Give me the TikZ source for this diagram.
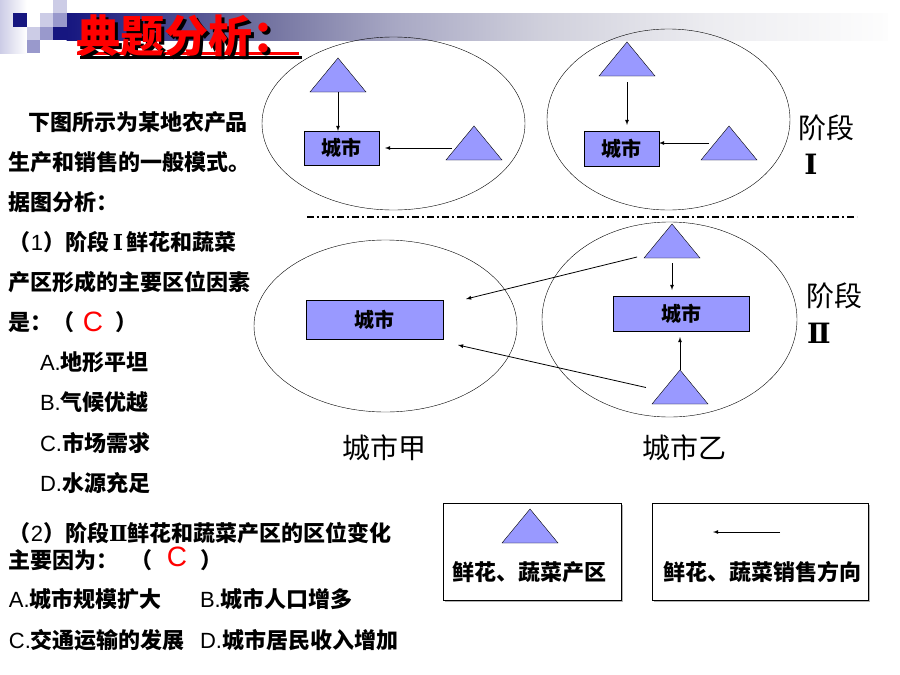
\documentclass[tikz,border=0pt]{standalone}
\usepackage{fontspec}
\setmainfont{Noto Sans CJK SC}
\newfontfamily\latin{Liberation Sans}
\newfontfamily\numfont{DejaVu Serif}
\usetikzlibrary{shapes, arrows, positioning, calc, shadows}

\definecolor{navy}{RGB}{22,22,128}
\definecolor{lilac}{RGB}{204,204,230}
\definecolor{lilacmid}{RGB}{153,153,204}
\definecolor{areablue}{RGB}{153,153,255}
\definecolor{barA}{RGB}{107,107,155}
\definecolor{barB}{RGB}{168,168,196}
\definecolor{barC}{RGB}{208,208,220}
\definecolor{barD}{RGB}{236,236,240}
\definecolor{barE}{RGB}{253,253,253}
\pgfdeclarehorizontalshading{titlebar}{100bp}{color(0bp)=(navy); color(25bp)=(navy); color(36bp)=(barA); color(45bp)=(barB); color(54bp)=(barC); color(64bp)=(barD); color(75bp)=(barE); color(100bp)=(barE)}

\newcommand{\choice}[1]{{\mdseries\latin #1.}}
\newcommand{\stagenum}[1]{{\numfont\bfseries #1}}

\begin{document}
\begin{tikzpicture}[x=1pt, y=-1pt,
  every node/.style={inner sep=0pt, outer sep=0pt},
  txt/.style={anchor=west, font=\bfseries\fontsize{22}{26}\selectfont},
  answer/.style={text=red, font=\latin\fontsize{28}{28}\selectfont},
  area/.style={draw, fill=areablue, isosceles triangle, isosceles triangle stretches, shape border rotate=90, minimum width=56pt, minimum height=34pt, anchor=apex},
  city/.style={draw, fill=areablue, font=\bfseries\fontsize{20}{20}\selectfont},
  zone/.style={draw, ellipse},
  flow/.style={-latex, line width=0.8pt},
  stage/.style={font=\fontsize{28}{28}\selectfont},
  key/.style={draw, fill=white, drop shadow={shadow xshift=2pt, shadow yshift=-2pt, fill=gray, opacity=0.6}},
  keytxt/.style={font=\bfseries\fontsize{22}{22}\selectfont}]
\useasboundingbox (0,0) rectangle (900,675);

% title bar
\shade[left color=lilac, right color=white] (0,0) rectangle (26.7,53.3);
\shade[shading=titlebar] (66.7,13.3) rectangle (888,40);
\foreach \sx/\sy/\sc in {53.3/0/lilac, 40/13.3/lilac, 26.7/26.7/lilac, 53.3/13.3/lilacmid, 40/26.7/lilacmid, 26.7/40/lilacmid, 53.3/26.7/navy, 13.3/13.3/navy}
  \fill[\sc] (\sx,\sy) rectangle ++(13.4,13.4);
\draw[line width=3pt] (80,57) -- (302,57);
\draw[red, line width=3pt] (77,53) -- (299,53);
\node[anchor=west, text=red, font=\bfseries\fontsize{44}{44}\selectfont] (ttl) at (76,37)
  {\makebox[0pt][l]{\hspace{3pt}\raisebox{-3pt}{\color{black}典题分析：}}典题分析：};

% question text
\node[txt] (intro1) at (28,122) {下图所示为某地农产品};
\node[txt] (intro2) at (9,162) {生产和销售的一般模式。};
\node[txt] (intro3) at (9,202) {据图分析：};
\node[txt] (q1a) at (9,242) {（{\mdseries\latin 1}）阶段\,\stagenum{Ⅰ}\,鲜花和蔬菜};
\node[txt] (q1b) at (9,282) {产区形成的主要区位因素};
\node[txt] (q1c) at (9,322) {是：（};
\node[answer] (ans1) at (93,322) {C};
\node[txt] (q1close) at (115,322) {）};
\node[txt] (q1A) at (40,362) {\choice{A}地形平坦};
\node[txt] (q1B) at (40,402) {\choice{B}气候优越};
\node[txt] (q1C) at (40,443) {\choice{C}市场需求};
\node[txt] (q1D) at (40,483) {\choice{D}水源充足};
\node[txt] (q2a) at (9,533) {（{\mdseries\latin 2}）阶段\stagenum{Ⅱ}鲜花和蔬菜产区的区位变化};
\node[txt] (q2b) at (9,560) {主要因为：};
\node[txt] (q2open) at (130,560) {（};
\node[answer] (ans2) at (177,557) {C};
\node[txt] (q2close) at (200,560) {）};
\node[txt] (q2A) at (9,599) {\choice{A}城市规模扩大};
\node[txt] (q2B) at (200,599) {\choice{B}城市人口增多};
\node[txt] (q2C) at (9,640) {\choice{C}交通运输的发展};
\node[txt] (q2D) at (200,640) {\choice{D}城市居民收入增加};

% stage I and II
\node[zone, minimum width=263pt, minimum height=173pt] (jia1) at (393.5,123.5) {};
\node[zone, minimum width=243pt, minimum height=181pt] (yi1) at (668.5,119.5) {};
\node[zone, minimum width=263pt, minimum height=172pt] (jia2) at (385.5,326) {};
\node[zone, minimum width=255pt, minimum height=195pt] (yi2) at (669.5,319.5) {};
\draw[line width=1.2pt, dash pattern=on 7pt off 3pt on 2pt off 3pt] (307,217) -- (857,217);

\node[city, minimum width=75pt, minimum height=34pt] (cityJ1) at (341.5,148) {城市};
\node[city, minimum width=75pt, minimum height=35pt] (cityY1) at (621.5,148.5) {城市};
\node[city, minimum width=137pt, minimum height=39pt] (cityJ2) at (374.5,319.5) {城市};
\node[city, minimum width=136pt, minimum height=35pt] (cityY2) at (681,313.5) {城市};

\node[area] (farmJ1a) at (338,58) {};
\node[area] (farmJ1b) at (474,126) {};
\node[area] (farmY1a) at (627,42) {};
\node[area] (farmY1b) at (729,126) {};
\node[area] (farmY2a) at (672,224) {};
\node[area] (farmY2b) at (680,370) {};

\draw[flow] (farmJ1a.lower side) -- (farmJ1a.lower side |- cityJ1.north);
\draw[flow, shorten <=8pt, shorten >=6pt] (farmJ1b.left side |- cityJ1.east) -- (cityJ1.east);
\draw[flow, shorten <=6pt, shorten >=6pt] (farmY1a.lower side) -- (farmY1a.lower side |- cityY1.north);
\draw[flow, shorten <=6pt] (farmY1b.left side) -- (farmY1b.left side -| cityY1.east);
\draw[flow, shorten <=5pt, shorten >=6pt] (farmY2a.lower side) -- (farmY2a.lower side |- cityY2.north);
\draw[flow, shorten >=6pt] (farmY2b.apex) -- (farmY2b.apex |- cityY2.south);
\coordinate (toJia1) at (466,299);
\coordinate (toJia2) at (458,345);
\draw[flow, shorten <=10pt] ($(farmY2a.left side)!0.8!(farmY2a.left corner)$) -- (toJia1);
\draw[flow, shorten <=17pt] ($(farmY2b.left side)!0.25!(farmY2b.left corner)$) -- (toJia2);

\node[stage] (stageI) at (826,128) {阶段};
\node[stage] (numI) at (811,164) {\stagenum{Ⅰ}};
\node[stage] (stageII) at (834,296) {阶段};
\node[stage] (numII) at (819,333) {\stagenum{Ⅱ}};
\node[stage] (jiaName) at (384,448) {城市甲};
\node[stage] (yiName) at (684,448) {城市乙};

% legend
\node[key, minimum width=178pt, minimum height=97pt] (keyArea) at (532,551.5) {};
\node[area] (keyFarm) at (530,509) {};
\node[keytxt] (keyAreaTxt) at (529.5,572) {鲜花、蔬菜产区};
\node[key, minimum width=216pt, minimum height=97pt] (keyFlow) at (760,551.5) {};
\coordinate (keyTail) at (780,532);
\coordinate (keyHead) at (713,532);
\draw[flow] (keyTail) -- (keyHead);
\node[keytxt] (keyFlowTxt) at (762,572) {鲜花、蔬菜销售方向};
\end{tikzpicture}
\end{document}
